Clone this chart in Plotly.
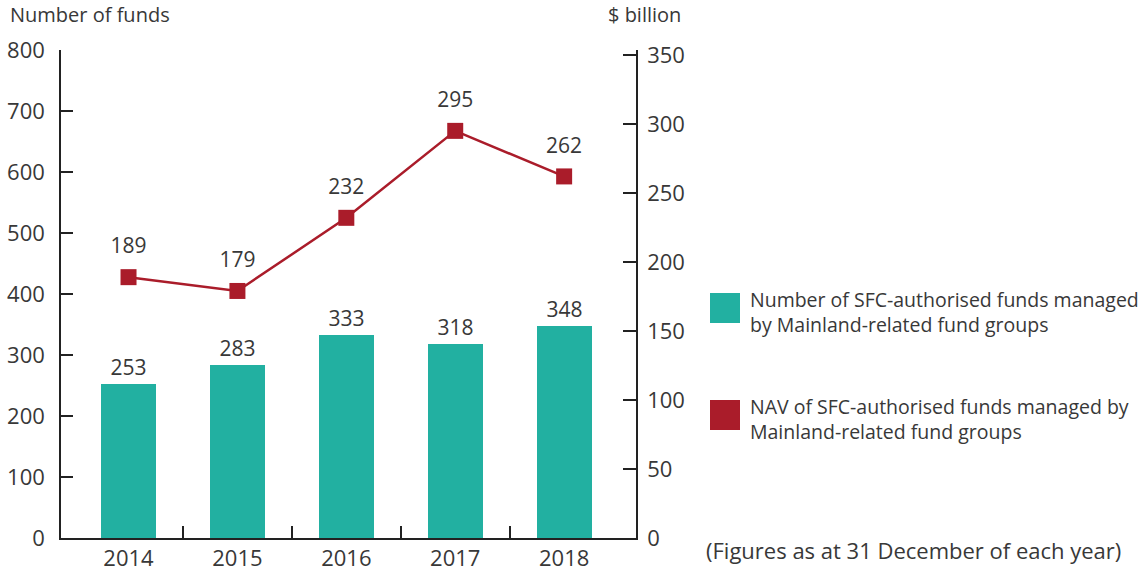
import plotly.graph_objects as go

# Data
years = [2014, 2015, 2016, 2017, 2018]
fund_counts = [253, 283, 333, 318, 348]
nav_billion = [189, 179, 232, 295, 262]
left_ticks = [0, 100, 200, 300, 400, 500, 600, 700, 800]
right_ticks = [0, 50, 100, 150, 200, 250, 300, 350]

TEAL = "#22B0A1"
RED = "#AA1C2A"
INK = "#383838"
FONT = "Open Sans"

fig = go.Figure()

fig.add_trace(go.Bar(
    x=years, y=fund_counts, width=0.505,
    marker=dict(color=TEAL, line=dict(width=0)),
    text=[str(v) for v in fund_counts], textposition="outside",
    textfont=dict(size=21, color=INK, family=FONT),
    cliponaxis=False, showlegend=False,
))

fig.add_trace(go.Scatter(
    x=years, y=nav_billion, yaxis="y2", mode="lines+markers",
    line=dict(color=RED, width=2.5),
    marker=dict(symbol="square", size=16, color=RED),
    cliponaxis=False, showlegend=False,
))

# Value labels above the NAV markers
fig.add_trace(go.Scatter(
    x=years, y=nav_billion, yaxis="y2", mode="markers+text",
    marker=dict(size=28, color="rgba(0,0,0,0)"),
    text=[str(v) for v in nav_billion], textposition="top center",
    textfont=dict(size=21, color=INK, family=FONT),
    cliponaxis=False, showlegend=False, hoverinfo="skip",
))

axis_line = dict(showline=True, linecolor="#222222", linewidth=1.5, showgrid=False,
                 zeroline=False, automargin=False)

fig.update_layout(
    width=1148, height=575,
    margin=dict(l=61, r=512, t=50, b=37),
    paper_bgcolor="white", plot_bgcolor="white",
    font=dict(family=FONT, color=INK, size=21),
    bargap=0,
    xaxis=dict(
        **axis_line, range=[2013.38, 2018.66],
        tickmode="array", tickvals=years, ticktext=[str(y) for y in years],
        ticks="", tickfont=dict(size=22, color=INK),
        ticklabelstandoff=0,
        minor=dict(tickmode="array", tickvals=[2014.5, 2015.5, 2016.5, 2017.5],
                   ticks="inside", ticklen=12, tickcolor="#222222", tickwidth=1.5),
    ),
    yaxis=dict(
        **axis_line, range=[0, 800], tickmode="array", tickvals=left_ticks,
        ticks="inside", ticklen=12, tickcolor="#222222", tickwidth=1.5,
        tickfont=dict(size=22, color=INK), ticklabelstandoff=10,
    ),
    yaxis2=dict(
        **axis_line, overlaying="y", side="right", anchor="x",
        range=[0, 353.6], tickmode="array", tickvals=right_ticks,
        ticks="inside", ticklen=13, tickcolor="#222222", tickwidth=1.5,
        tickfont=dict(size=22, color=INK), ticklabelstandoff=5,
    ),
)

# Axis titles
fig.add_annotation(text="Number of funds", xref="paper", yref="paper",
                   x=-53 / 575, y=1.0, xanchor="left", yanchor="bottom", yshift=20,
                   showarrow=False, font=dict(size=20, color=INK))
fig.add_annotation(text="$ billion", xref="paper", yref="paper",
                   x=1.0, y=1.0, xanchor="center", yanchor="bottom", yshift=20, xshift=8,
                   showarrow=False, font=dict(size=20, color=INK))

# Legend keys
legend_items = [
    (TEAL, "Number of SFC-authorised funds managed<br>by Mainland-related fund groups", 293),
    (RED, "NAV of SFC-authorised funds managed by<br>Mainland-related fund groups", 400),
]
for color, label, top in legend_items:
    fig.add_shape(type="rect", xref="paper", yref="paper",
                  x0=(710 - 61) / 575, x1=(740 - 61) / 575,
                  y0=(538 - top - 30) / 488, y1=(538 - top) / 488,
                  fillcolor=color, line=dict(width=0))
    fig.add_annotation(text=label, xref="paper", yref="paper",
                       x=(748 - 61) / 575, y=(538 - top + 9) / 488,
                       xanchor="left", yanchor="top", align="left",
                       showarrow=False, font=dict(size=19.5, color=INK))

fig.add_annotation(text="(Figures as at 31 December of each year)", xref="paper", yref="paper",
                   x=(704 - 61) / 575, y=0, xanchor="left", yanchor="top", yshift=5,
                   showarrow=False, font=dict(size=22, color=INK))

fig.write_html("out.html")
